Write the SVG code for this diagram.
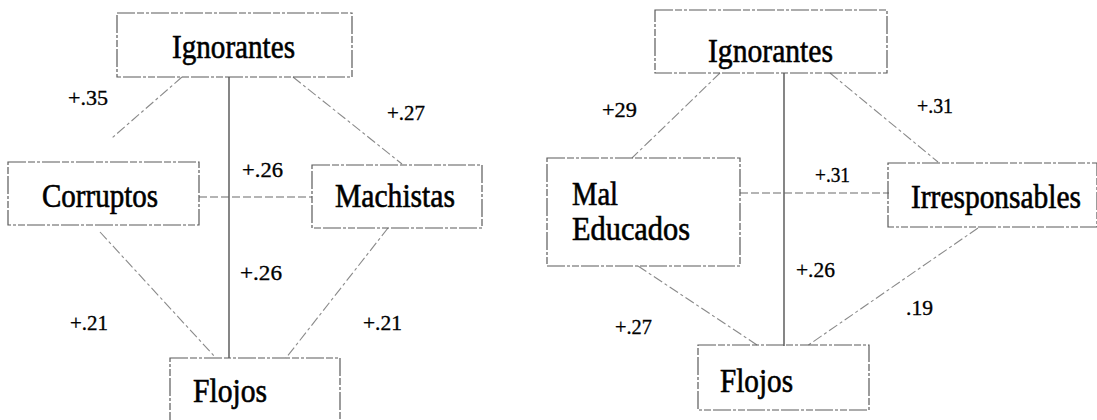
<svg xmlns="http://www.w3.org/2000/svg" width="1097" height="420" viewBox="0 0 1097 420">
<style>
.bg{fill:#fff}
.box{fill:none;stroke:#5a5a5a;stroke-width:1.2;stroke-dasharray:18 2 7 2 3 2}
.node{font-family:'Liberation Serif','Times New Roman',serif;font-size:33px;fill:#000;stroke:#000;stroke-width:0.6}
.big{font-size:34px}
.lbl{font-family:'Liberation Serif','Times New Roman',serif;font-size:22px;fill:#000;stroke:#000;stroke-width:0.35}
.solid{stroke:#444;stroke-width:1.3;fill:none}
.dash{stroke:#6a6a6a;stroke-width:1.1;fill:none;stroke-dasharray:8 3}
.diag{stroke:#8a8a8a;stroke-width:1.1;fill:none;stroke-dasharray:10 3 3 3}
</style>
<rect class="bg" x="0" y="0" width="1097" height="420"/>
<g id="connectors">
  <line class="solid" x1="229" y1="77" x2="229" y2="358"/>
  <line class="dash" x1="199" y1="197" x2="312" y2="197"/>
  <line class="diag" x1="182" y1="77" x2="112" y2="138"/>
  <line class="diag" x1="293" y1="77" x2="402" y2="164"/>
  <line class="diag" x1="100" y1="232" x2="215" y2="357"/>
  <line class="diag" x1="388" y1="228" x2="286" y2="358"/>
  <line class="solid" x1="784" y1="73" x2="784" y2="346"/>
  <line class="dash" x1="740" y1="193" x2="889" y2="193"/>
  <line class="diag" x1="720" y1="73" x2="632" y2="158"/>
  <line class="diag" x1="830" y1="73" x2="938" y2="162"/>
  <line class="diag" x1="638" y1="266" x2="757" y2="345"/>
  <line class="diag" x1="978" y1="228" x2="807" y2="346"/>
</g>
<g id="labels">
  <text class="lbl" x="68" y="105" textLength="40" lengthAdjust="spacingAndGlyphs">+.35</text>
  <text class="lbl" x="387" y="120" textLength="38" lengthAdjust="spacingAndGlyphs">+.27</text>
  <text class="lbl" x="242" y="177" textLength="41" lengthAdjust="spacingAndGlyphs">+.26</text>
  <text class="lbl" x="240" y="280" textLength="42" lengthAdjust="spacingAndGlyphs">+.26</text>
  <text class="lbl" x="70" y="330" textLength="38" lengthAdjust="spacingAndGlyphs">+.21</text>
  <text class="lbl" x="363" y="330" textLength="39" lengthAdjust="spacingAndGlyphs">+.21</text>
  <text class="lbl" x="602" y="117" textLength="35" lengthAdjust="spacingAndGlyphs">+29</text>
  <text class="lbl" x="917" y="113" textLength="36" lengthAdjust="spacingAndGlyphs">+.31</text>
  <text class="lbl" x="815" y="182" textLength="35" lengthAdjust="spacingAndGlyphs">+.31</text>
  <text class="lbl" x="796" y="277" textLength="39" lengthAdjust="spacingAndGlyphs">+.26</text>
  <text class="lbl" x="615" y="334" textLength="37" lengthAdjust="spacingAndGlyphs">+.27</text>
  <text class="lbl" x="906" y="315" textLength="27" lengthAdjust="spacingAndGlyphs">.19</text>
</g>
<g id="ignorantes-left">
  <rect class="box" x="117" y="13" width="235" height="64"/>
  <text class="node big" x="172" y="58" textLength="123" lengthAdjust="spacingAndGlyphs">Ignorantes</text>
</g>
<g id="corruptos">
  <rect class="box" x="8" y="162" width="191" height="63"/>
  <text class="node" x="42" y="207" textLength="116" lengthAdjust="spacingAndGlyphs">Corruptos</text>
</g>
<g id="machistas">
  <rect class="box" x="312" y="165" width="170" height="63"/>
  <text class="node" x="335" y="207" textLength="120" lengthAdjust="spacingAndGlyphs">Machistas</text>
</g>
<g id="flojos-left">
  <rect class="box" x="170" y="358" width="170" height="70"/>
  <text class="node" x="193" y="402" textLength="74" lengthAdjust="spacingAndGlyphs">Flojos</text>
</g>
<g id="ignorantes-right">
  <rect class="box" x="655" y="10" width="232" height="63"/>
  <text class="node big" x="708" y="62" textLength="125" lengthAdjust="spacingAndGlyphs">Ignorantes</text>
</g>
<g id="mal-educados">
  <rect class="box" x="547" y="158" width="193" height="108"/>
  <text class="node" x="572" y="205" textLength="46" lengthAdjust="spacingAndGlyphs">Mal</text>
  <text class="node" x="572" y="240" textLength="118" lengthAdjust="spacingAndGlyphs">Educados</text>
</g>
<g id="irresponsables">
  <rect class="box" x="888" y="163" width="209" height="64"/>
  <text class="node" x="911" y="208" textLength="170" lengthAdjust="spacingAndGlyphs">Irresponsables</text>
</g>
<g id="flojos-right">
  <rect class="box" x="698" y="345" width="171" height="65"/>
  <text class="node" x="720" y="392" textLength="73" lengthAdjust="spacingAndGlyphs">Flojos</text>
</g>
</svg>
